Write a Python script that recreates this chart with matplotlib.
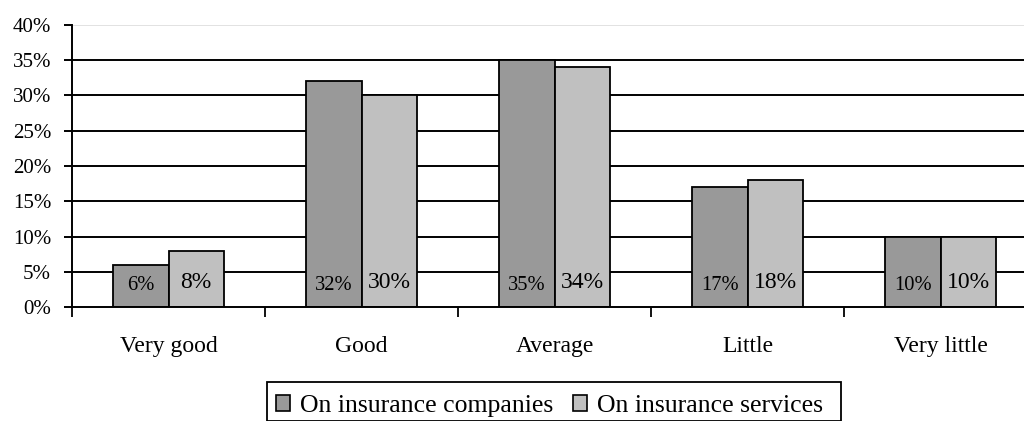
import numpy as np
import matplotlib
matplotlib.use("Agg")
import matplotlib.pyplot as plt
from matplotlib.patches import Patch, Rectangle

categories = ["Very good", "Good", "Average", "Little", "Very little"]
companies = [6, 32, 35, 17, 10]
services = [8, 30, 34, 18, 10]
series_names = ["On insurance companies", "On insurance services"]
y_ticks = [0, 5, 10, 15, 20, 25, 30, 35, 40]

plt.rcParams['font.family'] = ['Liberation Serif', 'DejaVu Serif']

dark = "#999999"
light = "#c0c0c0"

W, H = 1024, 421
fig = plt.figure(figsize=(W / 100, H / 100), dpi=100)
# axes run past the right edge like the original screenshot
ax = fig.add_axes([72 / W, (H - 307) / H, 965 / W, 282 / H])

x = np.arange(len(categories)) + 0.5
w = 0.285

# gridlines (top one is pale)
for t in y_ticks[1:-1]:
    ax.axhline(t, color="black", lw=1.4, zorder=1)
ax.axhline(40, color="#dddddd", lw=1.2, zorder=1)

ax.bar(x - w / 2, companies, w, color=dark, edgecolor="black", lw=1.3, zorder=3)
ax.bar(x + w / 2, services, w, color=light, edgecolor="black", lw=1.3, zorder=3)

# value labels near the bottom of each bar
for xi, v in zip(x, companies):
    ax.text(xi - w / 2, 3.1, f"{v}%", ha="center", va="center", fontsize=14.8, zorder=4)
for xi, v in zip(x, services):
    ax.text(xi + w / 2, 3.5, f"{v}%", ha="center", va="center", fontsize=17, zorder=4)

ax.set_xlim(0, len(categories))
ax.set_ylim(0, 40)
ax.set_yticks(y_ticks)
ax.set_yticklabels([f"{t}%" for t in y_ticks], fontsize=15)
ax.tick_params(axis="y", length=6, width=1.4, pad=9, direction="out")

ax.set_xticks(np.arange(len(categories) + 1))
ax.set_xticklabels([])
ax.tick_params(axis="x", which="major", length=7, width=1.3, direction="out")
ax.set_xticks(x, minor=True)
ax.set_xticklabels(categories, minor=True, fontsize=17)
ax.tick_params(axis="x", which="minor", length=0, pad=21)

for s in ["top", "right"]:
    ax.spines[s].set_visible(False)
ax.spines["left"].set_linewidth(1.4)
ax.spines["bottom"].set_linewidth(1.4)
ax.spines["bottom"].set_zorder(5)

# legend (frame drawn separately, its bottom is cut off by the image edge)
handles = [Patch(facecolor=dark, edgecolor="black", lw=1.2),
           Patch(facecolor=light, edgecolor="black", lw=1.2)]
leg = fig.legend(handles, series_names, loc="center left",
                 bbox_to_anchor=(276 / W, 1 - 406 / H), ncol=2,
                 fontsize=18.5, frameon=False,
                 handlelength=0.55, handleheight=0.55, handletextpad=0.4,
                 columnspacing=0.75, borderpad=0, borderaxespad=0)
fig.patches.append(Rectangle((267 / W, 0), (841 - 267) / W, (H - 382) / H,
                             transform=fig.transFigure, fill=False,
                             edgecolor="black", lw=1.3))

fig.savefig("out.png", dpi=100)
